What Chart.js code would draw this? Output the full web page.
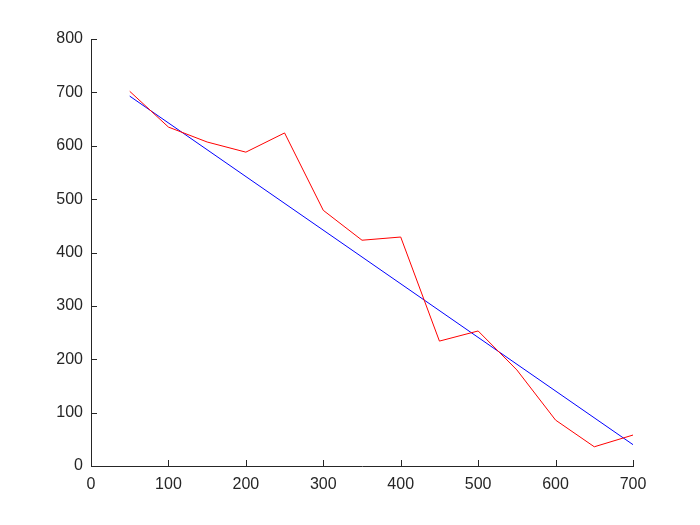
<!DOCTYPE html>
<html>
<head>
<meta charset="utf-8">
<script src="https://cdn.jsdelivr.net/npm/chart.js@4"></script>
<style>
  html, body { margin: 0; padding: 0; background: #fff; }
  #wrap { width: 700px; height: 525px; }
</style>
</head>
<body>
<div id="wrap"><canvas id="plot"></canvas></div>
<script>
// measured curve (red) and its straight fit (blue)
var xs = [50, 100, 150, 200, 250, 300, 350, 400, 450, 500, 550, 600, 650, 700];
var measured = [702, 635, 607, 588, 624, 479, 423, 429, 234, 253, 180, 86, 36, 58];
var fitX = [50, 700];
var fitY = [693, 40];

var xTicks = [0, 100, 200, 300, 400, 500, 600, 700];
var yTicks = [0, 100, 200, 300, 400, 500, 600, 700, 800];

function pts(x, y) {
    return x.map(function(v, i) { return {x: v, y: y[i]}; });
}

// matlab style ticks pointing into the plot
var innerTicks = {
    id: 'innerTicks',
    afterDraw: function(chart) {
        var c = chart.ctx, xs_ = chart.scales.x, ys_ = chart.scales.y;
        var a = chart.chartArea;
        c.save();
        c.strokeStyle = '#262626';
        c.lineWidth = 1;
        c.beginPath();
        xTicks.forEach(function(t) {
            var p = Math.round(xs_.getPixelForValue(t)) + 0.5;
            c.moveTo(p, a.bottom);
            c.lineTo(p, a.bottom - 6);
        });
        yTicks.forEach(function(t) {
            var p = Math.round(ys_.getPixelForValue(t)) + 0.5;
            c.moveTo(a.left, p);
            c.lineTo(a.left + 6, p);
        });
        c.stroke();
        c.restore();
    }
};

var ctx = document.getElementById('plot');
var chart = new Chart(ctx, {
    type: 'scatter',
    data: {
        datasets: [{
            data: pts(xs, measured),
            showLine: true,
            borderColor: '#ff0000',
            borderWidth: 1,
            pointRadius: 0,
            fill: false
        }, {
            data: pts(fitX, fitY),
            showLine: true,
            borderColor: '#0000ff',
            borderWidth: 1,
            pointRadius: 0,
            fill: false
        }]
    },
    options: {
        responsive: true,
        maintainAspectRatio: false,
        animation: false,
        layout: { padding: { left: 0, top: 39, right: 67, bottom: 0 } },
        plugins: {
            legend: { display: false },
            tooltip: { enabled: false }
        },
        scales: {
            x: {
                type: 'linear',
                min: 0,
                max: 700,
                afterFit: function(s) { s.height = 59; },
                afterBuildTicks: function(s) { s.ticks = xTicks.map(function(v) { return {value: v}; }); },
                grid: { display: false, drawTicks: false },
                border: { display: true, color: '#262626', width: 1 },
                ticks: {
                    padding: 9,
                    color: '#262626',
                    maxRotation: 0,
                    font: { family: 'Liberation Sans, Arial, sans-serif', size: 16 }
                }
            },
            y: {
                type: 'linear',
                min: 0,
                max: 800,
                afterFit: function(s) { s.width = 91; },
                afterBuildTicks: function(s) { s.ticks = yTicks.map(function(v) { return {value: v}; }); },
                grid: { display: false, drawTicks: false },
                border: { display: true, color: '#262626', width: 1 },
                ticks: {
                    padding: 8,
                    color: '#262626',
                    font: { family: 'Liberation Sans, Arial, sans-serif', size: 16 }
                }
            }
        }
    },
    plugins: [innerTicks]
});
</script>
</body>
</html>
